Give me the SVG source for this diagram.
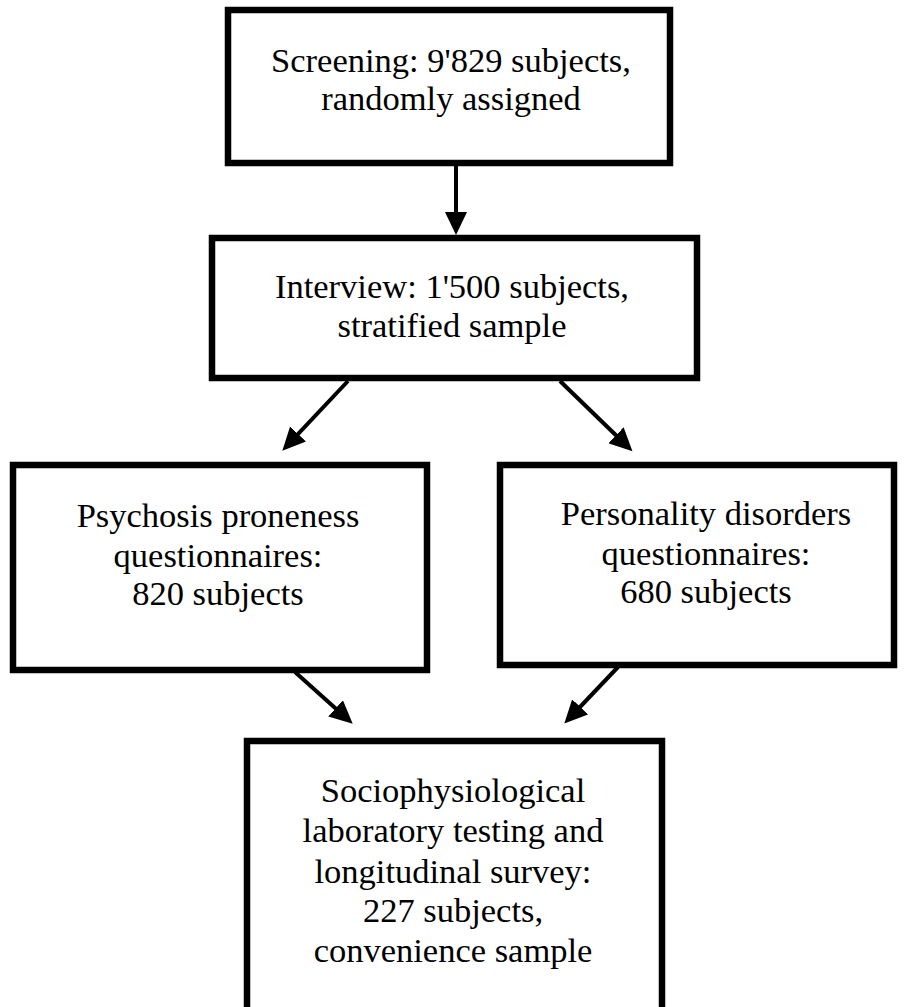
<svg xmlns="http://www.w3.org/2000/svg" width="906" height="1007" viewBox="0 0 906 1007">
<style>
.box{fill:#fff;stroke:#000;stroke-width:6.5}
.t{font-family:"Liberation Serif","Times New Roman",serif;font-size:34.5px;fill:#000;text-anchor:middle}
.c{stroke:#000;stroke-width:4;fill:none;marker-end:url(#ah)}
</style>
<defs>
<marker id="ah" markerUnits="userSpaceOnUse" markerWidth="24" markerHeight="22" refX="14" refY="11" orient="auto" viewBox="0 0 24 22">
<path d="M0,0 L23,11 L0,22 z" fill="#000"/>
</marker>
</defs>
<rect width="906" height="1007" fill="#fff"/>
<g id="connectors">
<line class="c" x1="456" y1="166" x2="456" y2="226"/>
<line class="c" x1="348" y1="381" x2="288.5" y2="444.2"/>
<line class="c" x1="560" y1="381" x2="626" y2="445"/>
<line class="c" x1="295" y1="672" x2="346" y2="717.7"/>
<line class="c" x1="618" y1="667" x2="570.5" y2="717"/>
</g>
<g id="n1">
<rect class="box" x="228" y="10" width="442" height="153"/>
<text class="t" x="451" y="72">Screening: 9'829 subjects,</text>
<text class="t" x="451" y="110">randomly assigned</text>
</g>
<g id="n2">
<rect class="box" x="212" y="238" width="485" height="140"/>
<text class="t" x="452" y="298">Interview: 1'500 subjects,</text>
<text class="t" x="452" y="337">stratified sample</text>
</g>
<g id="n3">
<rect class="box" x="13" y="465" width="414" height="205"/>
<text class="t" x="218" y="527">Psychosis proneness</text>
<text class="t" x="218" y="567">questionnaires:</text>
<text class="t" x="218" y="605">820 subjects</text>
</g>
<g id="n4">
<rect class="box" x="500" y="465" width="394" height="200"/>
<text class="t" x="706" y="525">Personality disorders</text>
<text class="t" x="706" y="565">questionnaires:</text>
<text class="t" x="706" y="603">680 subjects</text>
</g>
<g id="n5">
<rect class="box" x="247" y="741" width="415" height="280"/>
<text class="t" x="453" y="802">Sociophysiological</text>
<text class="t" x="453" y="842">laboratory testing and</text>
<text class="t" x="453" y="883">longitudinal survey:</text>
<text class="t" x="453" y="922">227 subjects,</text>
<text class="t" x="453" y="962">convenience sample</text>
</g>
</svg>
